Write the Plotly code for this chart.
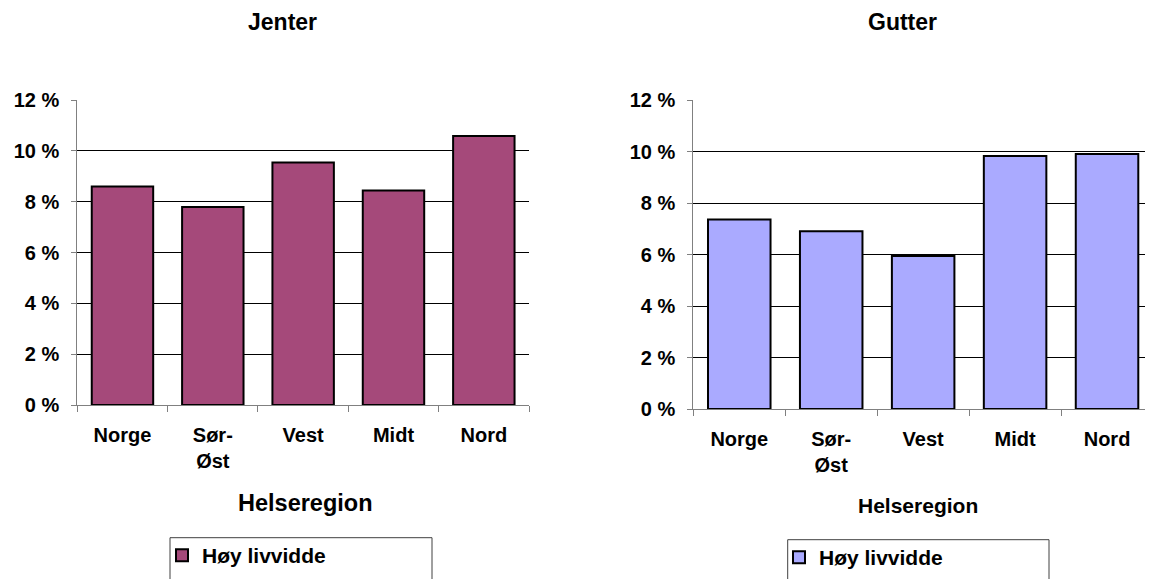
import plotly.graph_objects as go

W, H = 1153, 579
PAGE_OFFSET = 8  # the html body margin moves the figure 8px right and down

regions = ["Norge", "Sør-<br>Øst", "Vest", "Midt", "Nord"]
jenter = [8.60, 7.79, 9.54, 8.44, 10.58]
gutter = [7.36, 6.90, 5.94, 9.83, 9.90]
y_ticks = [0, 2, 4, 6, 8, 10, 12]
y_ticktext = ["0 %", "2 %", "4 %", "6 %", "8 %", "10 %", "12 %"]
series_name = "Høy livvidde"

col_jenter = "#A5497A"
col_gutter = "#AAAAFF"
FONT = "Liberation Sans, Arial, sans-serif"


def px_x(p):
    return (p - PAGE_OFFSET) / W


def px_y(p):
    return 1 - (p - PAGE_OFFSET) / H


fig = go.Figure()
fig.add_trace(go.Bar(x=regions, y=jenter, name=series_name, xaxis="x", yaxis="y",
                     marker=dict(color=col_jenter, line=dict(color="black", width=2)),
                     showlegend=True, legend="legend"))
fig.add_trace(go.Bar(x=regions, y=gutter, name=series_name, xaxis="x2", yaxis="y2",
                     marker=dict(color=col_gutter, line=dict(color="black", width=2)),
                     showlegend=True, legend="legend2"))

xcommon = dict(type="category", showline=True, linecolor="#808080", linewidth=1,
               ticks="outside", tickson="boundaries", ticklen=6, tickcolor="#808080",
               showgrid=False, automargin=False, fixedrange=True, ticklabelstandoff=12,
               tickfont=dict(family=FONT, size=20, color="black", weight="bold"))
ycommon = dict(range=[0, 12], tickmode="array", tickvals=y_ticks, ticktext=y_ticktext,
               showline=True, linecolor="#808080", linewidth=1, ticks="outside", ticklen=5,
               tickcolor="#808080", showgrid=True, gridcolor="black", gridwidth=1,
               zeroline=False, ticklabelstandoff=8, automargin=False, fixedrange=True,
               tickfont=dict(family=FONT, size=20, color="black", weight="bold"))

legfont = dict(family=FONT, size=21, color="black", weight="bold")

fig.update_layout(
    template="none",
    width=W, height=H,
    margin=dict(l=0, r=0, t=0, b=0),
    paper_bgcolor="white", plot_bgcolor="white",
    bargap=0.32,
    showlegend=True,
    font=dict(family=FONT, color="black"),
    xaxis=dict(domain=[px_x(77.3), px_x(529)], anchor="y", **xcommon),
    yaxis=dict(domain=[px_y(405), px_y(100)], anchor="x", **ycommon),
    xaxis2=dict(domain=[px_x(693.3), px_x(1153)], anchor="y2", **xcommon),
    yaxis2=dict(domain=[px_y(409), px_y(100)], anchor="x2", **ycommon),
    legend=dict(x=px_x(162), y=px_y(535), xanchor="left", yanchor="top",
                bgcolor="rgba(0,0,0,0)", borderwidth=0, font=legfont),
    legend2=dict(x=px_x(779), y=px_y(537), xanchor="left", yanchor="top",
                 bgcolor="rgba(0,0,0,0)", borderwidth=0, font=legfont),
)

# panel titles and axis titles
for txt, x, y, size in [("Jenter", 282.7, 22, 23), ("Gutter", 902.7, 22, 23),
                        ("Helseregion", 305, 503, 23.5), ("Helseregion", 917.5, 505, 21)]:
    fig.add_annotation(text=txt, x=px_x(x), y=px_y(y), xref="paper", yref="paper",
                       showarrow=False, xanchor="center", yanchor="middle",
                       font=dict(family=FONT, size=size, color="black", weight="bold"))

# legend frames (run off the bottom edge as in the original)
for x0, y0, x1 in [(170, 537.7, 432), (787.7, 539.7, 1049)]:
    fig.add_shape(type="rect", xref="paper", yref="paper",
                  x0=px_x(x0), x1=px_x(x1), y0=px_y(y0), y1=px_y(600),
                  line=dict(color="#404040", width=1), fillcolor="rgba(0,0,0,0)")

fig.write_html("out.html")
